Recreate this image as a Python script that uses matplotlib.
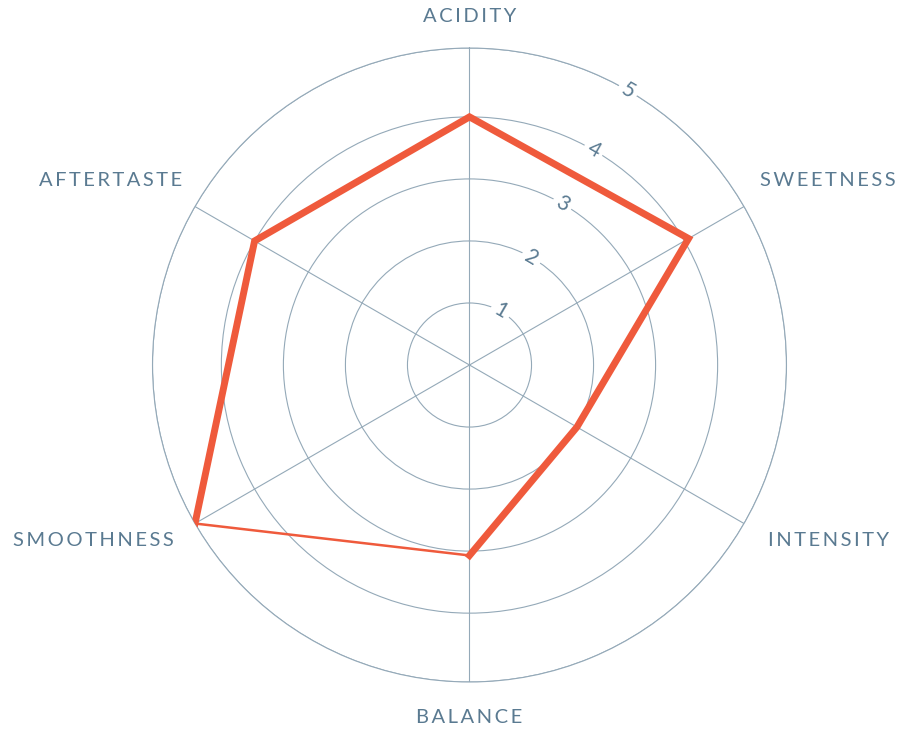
import matplotlib
matplotlib.use('Agg')
import matplotlib.pyplot as plt
import numpy as np

# Data
categories = ['ACIDITY', 'SWEETNESS', 'INTENSITY', 'BALANCE', 'SMOOTHNESS', 'AFTERTASTE']
scores = [4.0, 4.07, 2.0, 3.07, 5.0, 4.0]
ring_values = [1, 2, 3, 4, 5]

# label offsets from the outer ring, in pixels (dx, dy, ha)
label_offsets = [(0, 32, 'center'), (16, 26, 'left'), (24, -17, 'left'),
                 (0, -35, 'center'), (-21, -17, 'right'), (-13, 26, 'right')]

red = '#ef5a3c'
grid_col = '#94a9b8'
text_col = '#5a7a91'
fonts = ['Lato', 'DejaVu Sans']

def track(s):
    return '\u2009'.join(s)

# outer ring sits a little wider than the inner spacing
def fwd(r):
    return np.interp(r, [0, 4, 5], [0, 4, 5.11])

def inv(r):
    return np.interp(r, [0, 4, 5.11], [0, 4, 5])

fig = plt.figure(figsize=(9.04, 7.34), dpi=100)
ax = fig.add_axes([0.1687, 0.0708, 0.7013, 0.8638], projection='polar')
ax.set_theta_zero_location('N')
ax.set_theta_direction(-1)
ax.set_rscale('function', functions=(fwd, inv))
ax.set_ylim(0, 5)

theta = np.linspace(0, 2 * np.pi, len(categories), endpoint=False)

ax.set_xticks(theta)
ax.set_xticklabels([])
ax.set_yticks(ring_values)
ax.set_yticklabels([])
ax.grid(True, color=grid_col, linewidth=0.8)
ax.spines['polar'].set_color(grid_col)
ax.spines['polar'].set_linewidth(0.8)
ax.tick_params(length=0)

# ring labels, tilted along the 30 degree direction
for v in ring_values:
    ax.text(np.deg2rad(30), v, str(v), rotation=-30, ha='center', va='center',
            fontsize=15, color=text_col, family=fonts, zorder=3,
            bbox=dict(facecolor='white', edgecolor='none', pad=3))

# score polygon: thick from balance round to smoothness, thin closing edge
order = [3, 2, 1, 0, 5, 4]
th_thick = [theta[i] for i in order]
r_thick = [scores[i] for i in order]
ax.plot(th_thick, r_thick, color=red, linewidth=5, solid_joinstyle='miter', zorder=4)
ax.plot([theta[4], theta[3]], [scores[4], scores[3]], color=red, linewidth=1.8, zorder=4)

for t, name, (dx, dy, ha) in zip(theta, categories, label_offsets):
    ax.annotate(track(name), xy=(t, 5), xytext=(dx * 0.72, dy * 0.72),
                textcoords='offset points', ha=ha, va='center',
                fontsize=14.5, color=text_col, family=fonts, annotation_clip=False)

fig.savefig('out.png', dpi=100, facecolor='white')
